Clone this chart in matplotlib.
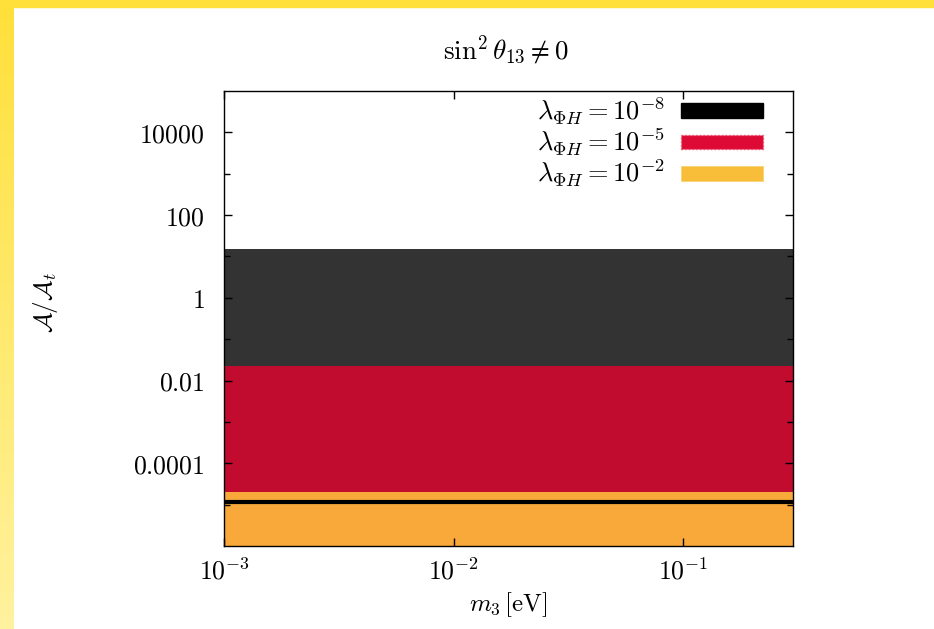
import numpy as np
import matplotlib
matplotlib.use("Agg")
import matplotlib.pyplot as plt
from matplotlib.patches import Patch, Rectangle
from matplotlib.ticker import FixedLocator, NullLocator, NullFormatter

plt.rcParams["mathtext.fontset"] = "cm"
plt.rcParams["font.family"] = "serif"
plt.rcParams["font.serif"] = ["DejaVu Serif"]

# values
m3 = [1e-3, 3e-3, 1e-2, 3e-2, 1e-1, 3e-1]
band_8_lo = [0.022] * 6      # lambda = 1e-8, dark band
band_8_hi = [15.0] * 6
band_5_lo = [2.0e-5] * 6     # lambda = 1e-5, red band
band_5_hi = [0.022] * 6
band_2_lo = [1.0e-6] * 6     # lambda = 1e-2, orange band
band_2_hi = [2.0e-5] * 6
line_8 = [1.15e-5] * 6       # thin black line inside orange

ytick_vals = [1e-4, 1e-2, 1, 100, 10000]
ytick_labels = ["$0.0001$", "$0.01$", "$1$", "$100$", "$10000$"]
ymin_vals = [1e-5, 1e-3, 1e-1, 10, 1000]
xtick_vals = [1e-3, 1e-2, 1e-1]
xtick_labels = ["$10^{-3}$", "$10^{-2}$", "$10^{-1}$"]
legend_labels = [r"$\lambda_{\Phi H}=10^{-8}$",
                 r"$\lambda_{\Phi H}=10^{-5}$",
                 r"$\lambda_{\Phi H}=10^{-2}$"]

W, H = 934, 629
fig = plt.figure(figsize=(W / 100, H / 100), dpi=100)

# yellow frame (top strip + left gradient)
grad = fig.add_axes([0, 0, 14 / W, 1])
grad.imshow(np.linspace(0, 1, 100).reshape(-1, 1), aspect="auto",
            cmap=matplotlib.colors.LinearSegmentedColormap.from_list(
                "y", ["#FFE03A", "#FFF29E"]), extent=[0, 1, 0, 1])
grad.axis("off")
fig.patches.append(Rectangle((0, 1 - 7 / H), 1, 7 / H, transform=fig.transFigure,
                             color="#FFE03A", zorder=5))

ax = fig.add_axes([224 / W, 1 - 546 / H, (793 - 224) / W, (546 - 91) / H])
ax.set_xscale("log")
ax.set_yscale("log")

ax.fill_between(m3, band_2_lo, band_2_hi, color="#F9A93A", lw=0)
ax.fill_between(m3, band_5_lo, band_5_hi, color="#C10C30", lw=0)
ax.fill_between(m3, band_8_lo, band_8_hi, color="#333333", lw=0)
ax.plot(m3, line_8, color="black", lw=3)

ax.set_xlim(1e-3, 0.3)
ax.set_ylim(1e-6, 1e5)

ax.yaxis.set_major_locator(FixedLocator(ytick_vals))
ax.set_yticklabels(ytick_labels)
ax.yaxis.set_minor_locator(FixedLocator(ymin_vals))
ax.yaxis.set_minor_formatter(NullFormatter())
ax.xaxis.set_major_locator(FixedLocator(xtick_vals))
ax.set_xticklabels(xtick_labels)
ax.xaxis.set_minor_locator(NullLocator())

ax.tick_params(which="both", direction="in", top=True, right=True, labelsize=18.5,
               width=1, color="black")
ax.tick_params(which="major", length=6)
ax.tick_params(which="minor", length=4)
ax.tick_params(axis="y", pad=14)
ax.tick_params(axis="x", pad=9)
for s in ax.spines.values():
    s.set_linewidth(1)

handles = [Patch(facecolor="black", edgecolor="black"),
           Patch(facecolor="#DC0A34", edgecolor="#F05070", linestyle=":", lw=1),
           Patch(facecolor="#F8BE3A", edgecolor="#F8D070", lw=0.5)]
ax.legend(handles, legend_labels, loc="upper right",
          bbox_to_anchor=(1 - 12 / 569, 1 + 14 / 455),
          markerfirst=False, frameon=False, fontsize=19, handlelength=3.1,
          handleheight=0.49, labelspacing=0.0, handletextpad=0.6,
          borderaxespad=0.3)

fig.text(506 / W, 1 - 50 / H, r"$\sin^2\theta_{13}\neq0$", ha="center", va="center",
         fontsize=19.5)
fig.text(508 / W, 1 - 605 / H, r"$m_3\,[\mathrm{eV}]$", ha="center", va="center",
         fontsize=18)
fig.text(45 / W, 1 - 302 / H, r"$\mathcal{A}/\mathcal{A}_t$", ha="center",
         va="center", rotation=90, fontsize=18)

fig.savefig("out.png", dpi=100)
